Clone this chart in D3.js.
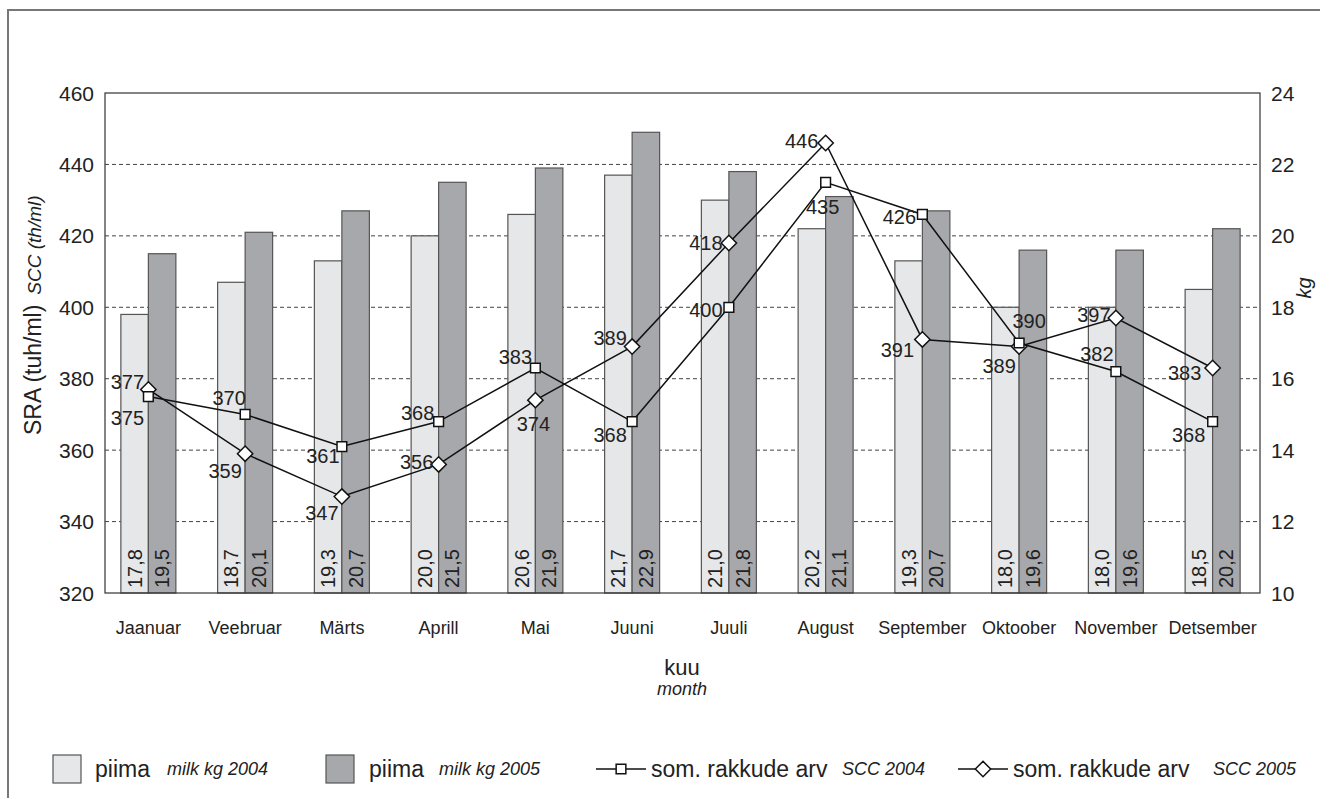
<!DOCTYPE html>
<html>
<head>
<meta charset="utf-8">
<script src="https://cdn.jsdelivr.net/npm/d3@7"></script>
<style>
  body { margin: 0; background: #fff; }
  text { font-family: "Liberation Sans", Arial, sans-serif; fill: #222; }
</style>
</head>
<body>
<div id="chart"></div>
<script>
// data
const months = ["Jaanuar", "Veebruar", "Märts", "Aprill", "Mai", "Juuni", "Juuli",
  "August", "September", "Oktoober", "November", "Detsember"];
const milk2004 = [17.8, 18.7, 19.3, 20.0, 20.6, 21.7, 21.0, 20.2, 19.3, 18.0, 18.0, 18.5];
const milk2005 = [19.5, 20.1, 20.7, 21.5, 21.9, 22.9, 21.8, 21.1, 20.7, 19.6, 19.6, 20.2];
const scc2004 = [375, 370, 361, 368, 383, 368, 400, 435, 426, 390, 382, 368];
const scc2005 = [377, 359, 347, 356, 374, 389, 418, 446, 391, 389, 397, 383];
const leftTicks = [320, 340, 360, 380, 400, 420, 440, 460];
const rightTicks = [10, 12, 14, 16, 18, 20, 22, 24];

// label placement around the markers (dx, dy of text centre)
const off2004 = [[-21, 21], [-16, -16], [-19, 9], [-21, -9], [-20, -11], [-22, 13],
  [-23, 3], [-3, 25], [-23, 3], [10, -22], [-19, -18], [-24, 13]];
const off2005 = [[-21, -7], [-20, 17], [-20, 16], [-22, -2], [-2, 24], [-22, -9],
  [-23, 0], [-24, -2], [-25, 11], [-20, 19], [-22, -3], [-28, 5]];

const W = 1320, H = 798;
const plot = {left: 105, right: 1260, top: 93, bottom: 593};
const light = "#e6e7e9", dark = "#a7a8ab";

const svg = d3.select("#chart").append("svg")
  .attr("width", W).attr("height", H);

// outer frame (only top and left visible)
svg.append("rect")
  .attr("x", 8).attr("y", 10).attr("width", W).attr("height", H)
  .attr("fill", "none").attr("stroke", "#777").attr("stroke-width", 2);

const x = d3.scaleBand().domain(months).range([100, 1261]);
const yL = d3.scaleLinear().domain([320, 460]).range([plot.bottom, plot.top]);
const yR = d3.scaleLinear().domain([10, 24]).range([plot.bottom, plot.top]);
const cx = m => x(m) + x.bandwidth() / 2;
const bw = 27.5;

// grid lines
svg.append("g").selectAll("line")
  .data(leftTicks.slice(1, -1))
  .join("line")
    .attr("x1", plot.left).attr("x2", plot.right)
    .attr("y1", d => yL(d)).attr("y2", d => yL(d))
    .attr("stroke", "#444").attr("stroke-width", 1)
    .attr("stroke-dasharray", "4,3");

// bars
const bars = svg.append("g");
bars.selectAll("rect.b4").data(milk2004).join("rect")
  .attr("class", "b4")
  .attr("x", (d, i) => cx(months[i]) - bw)
  .attr("y", d => yR(d))
  .attr("width", bw)
  .attr("height", d => plot.bottom - yR(d))
  .attr("fill", light).attr("stroke", "#555").attr("stroke-width", 1.2);
bars.selectAll("rect.b5").data(milk2005).join("rect")
  .attr("class", "b5")
  .attr("x", (d, i) => cx(months[i]))
  .attr("y", d => yR(d))
  .attr("width", bw)
  .attr("height", d => plot.bottom - yR(d))
  .attr("fill", dark).attr("stroke", "#555").attr("stroke-width", 1.2);

const fmt = d => d.toFixed(1).replace(".", ",");
function barLabels(data, shift) {
  bars.append("g").selectAll("text").data(data).join("text")
    .attr("transform", (d, i) => `translate(${cx(months[i]) + shift},${plot.bottom - 5}) rotate(-90)`)
    .attr("dominant-baseline", "central")
    .attr("font-size", 20)
    .text(fmt);
}
barLabels(milk2004, -bw / 2);
barLabels(milk2005, bw / 2);

// plot frame
svg.append("rect")
  .attr("x", plot.left).attr("y", plot.top)
  .attr("width", plot.right - plot.left).attr("height", plot.bottom - plot.top)
  .attr("fill", "none").attr("stroke", "#333").attr("stroke-width", 1.2);

// axes labels
svg.append("g").selectAll("text").data(leftTicks).join("text")
  .attr("x", 94).attr("y", d => yL(d))
  .attr("text-anchor", "end").attr("dominant-baseline", "central")
  .attr("font-size", 21).text(d => d);
svg.append("g").selectAll("text").data(rightTicks).join("text")
  .attr("x", 1271).attr("y", d => yR(d))
  .attr("dominant-baseline", "central")
  .attr("font-size", 21).text(d => d);
svg.append("g").selectAll("text").data(months).join("text")
  .attr("x", d => cx(d)).attr("y", 634)
  .attr("text-anchor", "middle")
  .attr("font-size", 18).text(d => d);

const yTitle = svg.append("text")
  .attr("transform", "translate(41,435) rotate(-90)")
  .attr("font-size", 23);
yTitle.append("tspan").text("SRA (tuh/ml)");
yTitle.append("tspan").attr("dx", 10).attr("font-style", "italic").attr("font-size", 19).text("SCC (th/ml)");

svg.append("text")
  .attr("transform", "translate(1304,288) rotate(-90)")
  .attr("text-anchor", "middle").attr("dominant-baseline", "central")
  .attr("font-size", 20).attr("font-style", "italic").text("kg");

svg.append("text").attr("x", 682).attr("y", 675)
  .attr("text-anchor", "middle").attr("font-size", 22).text("kuu");
svg.append("text").attr("x", 682).attr("y", 695)
  .attr("text-anchor", "middle").attr("font-size", 18).attr("font-style", "italic").text("month");

// lines and markers
const line = d3.line().x((d, i) => cx(months[i])).y(d => yL(d));
const diamond = d3.symbol().type(d3.symbolDiamond2).size(150);
const square = d3.symbol().type(d3.symbolSquare2).size(120);

function series(data, sym) {
  const g = svg.append("g");
  g.append("path").datum(data)
    .attr("d", line).attr("fill", "none")
    .attr("stroke", "#111").attr("stroke-width", 1.5);
  g.selectAll("path.m").data(data).join("path")
    .attr("class", "m")
    .attr("transform", (d, i) => `translate(${cx(months[i])},${yL(d)})`)
    .attr("d", sym)
    .attr("fill", "#fff").attr("stroke", "#111").attr("stroke-width", 1.5);
  return g;
}
function seriesLabels(data, offs) {
  svg.append("g").selectAll("text").data(data).join("text")
    .attr("x", (d, i) => cx(months[i]) + offs[i][0])
    .attr("y", (d, i) => yL(d) + offs[i][1])
    .attr("text-anchor", "middle").attr("dominant-baseline", "central")
    .attr("font-size", 20).text(d => d);
}
series(scc2005, diamond);
series(scc2004, square);
seriesLabels(scc2005, off2005);
seriesLabels(scc2004, off2004);

// legend
const lg = svg.append("g");
const ly = 769;
lg.append("rect").attr("x", 53).attr("y", ly - 14).attr("width", 28).attr("height", 28)
  .attr("fill", light).attr("stroke", "#555").attr("stroke-width", 1.2);
lg.append("text").attr("x", 95).attr("y", ly).attr("dominant-baseline", "central")
  .attr("font-size", 23).text("piima");
lg.append("text").attr("x", 167).attr("y", ly).attr("dominant-baseline", "central")
  .attr("font-size", 18).attr("font-style", "italic").text("milk kg 2004");

lg.append("rect").attr("x", 326).attr("y", ly - 14).attr("width", 28).attr("height", 28)
  .attr("fill", dark).attr("stroke", "#555").attr("stroke-width", 1.2);
lg.append("text").attr("x", 369).attr("y", ly).attr("dominant-baseline", "central")
  .attr("font-size", 23).text("piima");
lg.append("text").attr("x", 439).attr("y", ly).attr("dominant-baseline", "central")
  .attr("font-size", 18).attr("font-style", "italic").text("milk kg 2005");

function lineKey(x0, sym, label, x2, label2) {
  lg.append("line").attr("x1", x0).attr("x2", x0 + 50).attr("y1", ly).attr("y2", ly)
    .attr("stroke", "#111").attr("stroke-width", 1.5);
  lg.append("path").attr("transform", `translate(${x0 + 25},${ly})`).attr("d", sym)
    .attr("fill", "#fff").attr("stroke", "#111").attr("stroke-width", 1.5);
  lg.append("text").attr("x", x0 + 55).attr("y", ly).attr("dominant-baseline", "central")
    .attr("font-size", 23).text(label);
  lg.append("text").attr("x", x2).attr("y", ly).attr("dominant-baseline", "central")
    .attr("font-size", 18).attr("font-style", "italic").text(label2);
}
lineKey(596, square, "som. rakkude arv", 842, "SCC 2004");
lineKey(958, diamond, "som. rakkude arv", 1213, "SCC 2005");
</script>
</body>
</html>
